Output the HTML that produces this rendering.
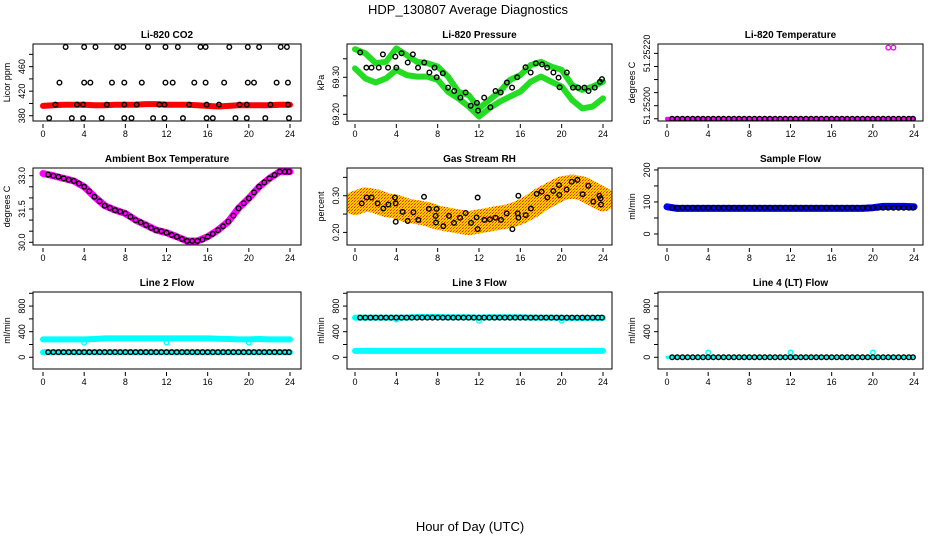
<!DOCTYPE html>
<html><head><meta charset="utf-8"><style>
html,body{margin:0;padding:0;background:#fff;}
svg{display:block;font-family:"Liberation Sans",sans-serif;}
</style></head><body>
<svg id="chart" width="936" height="540" viewBox="0 0 936 540">
<defs>
<pattern id="rhpat" width="3" height="3" patternUnits="userSpaceOnUse"><rect width="3" height="3" fill="#ffd000"/><rect width="1" height="1" fill="#ee2000"/><rect x="2" y="1" width="1" height="1" fill="#ff9000"/><rect x="1" y="2" width="1" height="1" fill="#ee4000"/></pattern>
</defs>
<text x="468" y="14" text-anchor="middle" font-size="13">HDP_130807  Average Diagnostics</text>
<text x="470" y="531" text-anchor="middle" font-size="13">Hour of Day (UTC)</text>
</svg>
<script>
// ---- data ----
const hours = [0,1,2,3,4,5,6,7,8,9,10,11,12,13,14,15,16,17,18,19,20,21,22,23,24];
const halfHours = [0.5,1,1.5,2,2.5,3,3.5,4,4.5,5,5.5,6,6.5,7,7.5,8,8.5,9,9.5,10,10.5,11,11.5,12,12.5,13,13.5,14,14.5,15,15.5,16,16.5,17,17.5,18,18.5,19,19.5,20,20.5,21,21.5,22,22.5,23,23.5,23.9];
const xTicks = [0,4,8,12,16,20,24];

const co2Red = [396,397,398,398,398,397,397,398,398,398,399,399,398,398,398,397,396,395,396,397,397,397,397,398,398];
const co2TopX = [2.2,4.0,5.1,7.2,7.8,10.2,11.9,13.1,15.3,15.8,18.1,19.9,21.0,23.1,23.7];
const co2TopV = [492,492,492,492,492,492,492,492,492,492,492,492,492,492,492];
const co2MidX = [1.6,4.0,4.6,6.7,7.9,9.6,11.9,12.6,14.7,15.8,17.6,19.9,20.5,22.7,23.8];
const co2MidV = [434,434,434,434,434,434,434,434,434,434,434,434,434,434,434];
const co2LowX = [1.2,3.3,3.9,6.2,7.9,9.1,11.3,11.8,14.2,15.9,17.1,19.1,19.8,22.1,23.8];
const co2LowV = [398,398,398,398,398,398,398,398,398,398,398,398,398,398,398];
const co2BotX = [0.6,2.8,3.9,5.7,7.9,8.6,10.7,11.8,13.6,15.9,16.5,18.7,19.8,21.6,23.9];
const co2BotV = [376,376,376,376,376,376,376,376,376,376,376,376,376,376,376];

const presA = [69.376,69.365,69.338,69.342,69.378,69.360,69.342,69.338,69.329,69.302,69.261,69.252,69.216,69.239,69.261,69.293,69.306,69.333,69.342,69.329,69.320,69.279,69.266,69.275,69.288];
const presB = [69.324,69.297,69.286,69.297,69.320,69.306,69.302,69.302,69.293,69.261,69.243,69.221,69.194,69.216,69.234,69.248,69.261,69.288,69.302,69.288,69.275,69.239,69.216,69.221,69.243];
const presPtX = [0.5,1.1,1.6,2.3,2.7,3.2,3.9,4.0,4.5,5.1,5.6,6.1,6.7,7.2,7.7,7.9,8.5,9.0,9.6,10.2,10.7,11.2,11.8,11.9,12.5,13.1,13.6,14.1,14.7,15.2,15.7,16.5,17.0,17.5,18.1,18.6,19.2,19.7,19.8,20.5,21.1,21.6,22.2,22.6,23.2,23.7,23.9];
const presPtV = [69.367,69.326,69.326,69.326,69.362,69.326,69.356,69.326,69.365,69.340,69.362,69.326,69.340,69.313,69.326,69.300,69.311,69.272,69.263,69.245,69.259,69.223,69.231,69.210,69.245,69.219,69.263,69.259,69.286,69.272,69.300,69.327,69.313,69.338,69.335,69.326,69.313,69.299,69.273,69.313,69.272,69.272,69.272,69.263,69.272,69.288,69.295];

const liTempMag = [51.25195,51.25195,51.25195,51.25195,51.25195,51.25195,51.25195,51.25195,51.25195,51.25195,51.25195,51.25195,51.25195,51.25195,51.25195,51.25195,51.25195,51.25195,51.25195,51.25195,51.25195,51.25195,51.25195,51.25195,51.25195];
const liTempSpikeX = [21.5,22.0];
const liTempSpikeV = [51.252222,51.252222];
const liTempBlk = halfHours.map(()=>51.25195);

const ambMag = [33.1,33.0,32.88,32.76,32.5,32.05,31.65,31.45,31.3,31.0,30.78,30.55,30.43,30.25,30.06,30.06,30.25,30.55,30.93,31.53,31.98,32.5,32.88,33.18,33.18];
const ambBlk = [33.05,33.0,32.95,32.88,32.82,32.76,32.65,32.5,32.3,32.05,31.85,31.65,31.55,31.45,31.38,31.3,31.15,31.0,30.9,30.78,30.65,30.55,30.5,30.43,30.33,30.25,30.15,30.06,30.06,30.06,30.12,30.25,30.38,30.55,30.72,30.93,31.2,31.53,31.76,31.98,32.25,32.5,32.7,32.88,33.03,33.18,33.18,33.18];

const rhBand = [0.28,0.29,0.285,0.275,0.27,0.26,0.255,0.25,0.24,0.235,0.23,0.225,0.23,0.235,0.24,0.245,0.255,0.27,0.29,0.305,0.32,0.325,0.32,0.305,0.29];
const rhPtX = [0.65,1.13,1.61,2.19,2.74,3.23,3.87,3.94,3.94,4.61,5.10,5.65,6.13,6.68,7.16,7.90,7.81,7.84,8.55,9.10,9.58,10.16,10.71,11.23,11.77,11.87,11.87,12.52,13.06,13.61,14.13,14.68,15.23,15.74,15.81,15.81,16.52,17.03,17.58,18.06,18.61,19.19,19.74,19.77,20.48,20.97,21.52,22.03,22.58,23.06,23.65,23.77,23.81];
const rhPtV = [0.279,0.295,0.295,0.279,0.265,0.276,0.295,0.279,0.229,0.256,0.231,0.255,0.234,0.297,0.264,0.264,0.245,0.227,0.217,0.245,0.226,0.240,0.253,0.226,0.241,0.209,0.295,0.234,0.236,0.240,0.234,0.252,0.209,0.252,0.240,0.300,0.247,0.265,0.305,0.311,0.295,0.313,0.329,0.302,0.317,0.338,0.343,0.304,0.327,0.284,0.300,0.293,0.276];

const sampleBlue = [85,80,80,80,80,80,80,80,80,80,80,80,80,80,80,80,80,80,80,80,82,86,86,86,85];
const sampleBlk = halfHours.map(()=>82);

const line2Upper = [280,280,280,280,280,285,295,295,295,295,295,295,295,295,295,295,295,290,285,280,280,285,280,280,280];
const line2Lower = [80,80,80,80,80,80,80,80,80,80,80,80,80,80,80,80,80,80,80,80,80,80,80,80,80];
const line2DipX = [4,12,20];
const line2DipV = [230,230,230];
const line2Blk = halfHours.map(()=>80);

const line3Upper = [620,620,620,620,620,620,630,630,630,625,625,625,620,625,625,625,625,620,620,620,615,615,615,615,615];
const line3Lower = [100,100,100,100,100,100,100,100,100,100,100,100,100,100,100,100,100,100,100,100,100,100,100,100,100];
const line3DipX = [4,12,20];
const line3DipV = [590,570,570];
const line3Blk = halfHours.map(()=>620);

const line4Cyan = [0,0,0,0,0,0,0,0,0,0,0,0,0,0,0,0,0,0,0,0,0,0,0,0,0];
const line4SpikeX = [4,12,20];
const line4SpikeV = [75,75,75];
const line4Blk = halfHours.map(()=>0);

// ---- layout ----
const NS='http://www.w3.org/2000/svg';
const svg=document.getElementById('chart');
const cols=[{l:33,r:301,x0:43,x24:290},{l:347,r:612,x0:355,x24:603},{l:658,r:923,x0:667,x24:914}];
const rows=[{t:44,b:121},{t:168,b:245},{t:292,b:369}];
function mk(tag,attrs,parent){const e=document.createElementNS(NS,tag);for(const k in attrs)e.setAttribute(k,attrs[k]);(parent||svg).appendChild(e);return e;}

function panel(ci,ri,dom,title,ylab,yticks,ylabels,name){
  const c=cols[ci],r=rows[ri];
  const g=mk('g',{});
  
  
  const sx=h=>c.x0+(c.x24-c.x0)*h/24;
  const sy=v=>r.b-(v-dom[0])/(dom[1]-dom[0])*(r.b-r.t);
  const t=mk('text',{x:(c.l+c.r)/2,y:r.t-6,'text-anchor':'middle','font-size':'10','font-weight':'bold'},g);
  t.textContent=title;
  
  
  const yt=mk('text',{transform:`translate(${c.l-23},${(r.t+r.b)/2}) rotate(-90)`,'text-anchor':'middle','font-size':'9'},g);
  yt.textContent=ylab;
  
  
  const ya=mk('g',{},g);
  
  
  yticks.forEach(v=>{const y=sy(v);mk('line',{x1:c.l-4,x2:c.l,y1:y,y2:y,stroke:'#000','stroke-width':1},ya);});
  ylabels.forEach(v=>{const y=sy(v[0]);const tx=mk('text',{transform:`translate(${c.l-8},${y}) rotate(-90)`,'text-anchor':'middle','font-size':'9'},ya);tx.textContent=v[1];});
  const xa=mk('g',{},g);
  
  
  xTicks.forEach(h=>{const x=sx(h);mk('line',{x1:x,x2:x,y1:r.b+3,y2:r.b+7,stroke:'#000','stroke-width':1},xa);const tx=mk('text',{x:x,y:r.b+16,'text-anchor':'middle','font-size':'9'},xa);tx.textContent=String(h);});
  const clipId='clip'+ci+ri;
  const cp=mk('clipPath',{id:clipId},g);mk('rect',{x:c.l,y:r.t,width:c.r-c.l,height:r.b-r.t},cp);
  const plot=mk('g',{'clip-path':`url(#${clipId})`},g);
  
  
  const box=mk('rect',{x:c.l,y:r.t,width:c.r-c.l,height:r.b-r.t,fill:'none',stroke:'#000','stroke-width':1},g);
  
  
  return {sx,sy,plot};
}
function band(p,xs,vs,color,w,name){
  const d=xs.map((h,i)=>(i?'L':'M')+p.sx(h).toFixed(1)+','+p.sy(vs[i]).toFixed(1)).join('');
  const e=mk('path',{d:d,fill:'none',stroke:color,'stroke-width':w,'stroke-linejoin':'round','stroke-linecap':'round'},p.plot);
  
  
}
function pts(p,xs,vs,color,name,rad){
  const g=mk('g',{},p.plot);
  
  
  xs.forEach((h,i)=>{mk('circle',{cx:p.sx(h),cy:p.sy(vs[i]),r:rad||2.3,fill:'none',stroke:color,'stroke-width':1.4},g);});
}

// CO2
let p=panel(0,0,[371.4,496.9],'Li-820 CO2','Licor ppm',[380,400,420,440,460,480],[[380,'380'],[420,'420'],[460,'460']],'co2');
band(p,hours,co2Red,'#ff0000',6,'co2-red-series');
pts(p,co2TopX,co2TopV,'#000','co2-points-high');
pts(p,co2MidX,co2MidV,'#000','co2-points-mid');
pts(p,co2LowX,co2LowV,'#000','co2-points-low');
pts(p,co2BotX,co2BotV,'#000','co2-points-bottom');
// Pressure
p=panel(1,0,[69.1819,69.39],'Li-820 Pressure','kPa',[69.20,69.25,69.30,69.35],[[69.20,'69.20'],[69.30,'69.30']],'pressure');
band(p,hours,presA,'#22dd22',6,'pressure-green-series-a');
band(p,hours,presB,'#22dd22',6,'pressure-green-series-b');
pts(p,presPtX,presPtV,'#000','pressure-points');
// Li temp
p=panel(2,0,[51.2519415,51.2522359],'Li-820 Temperature','degrees C',[51.25195,51.25200,51.25205,51.25210,51.25215,51.25220],[[51.25200,'51.25200'],[51.25220,'51.25220']],'li-temp');
band(p,hours,liTempMag,'#ff00ff',4,'li-temp-magenta-series');
pts(p,halfHours,liTempBlk,'#000','li-temp-points');
pts(p,liTempSpikeX,liTempSpikeV,'#ff00ff','li-temp-spike-points');
// Ambient
p=panel(0,1,[29.878,33.347],'Ambient Box Temperature','degrees C',[30,30.5,31,31.5,32,32.5,33],[[30,'30.0'],[31.5,'31.5'],[33,'33.0']],'ambient');
band(p,hours,ambMag,'#ff00ff',7,'ambient-magenta-series');
pts(p,halfHours,ambBlk,'#000','ambient-points');
// RH
p=panel(1,1,[0.1657,0.3755],'Gas Stream RH','percent',[0.20,0.25,0.30,0.35],[[0.20,'0.20'],[0.30,'0.30']],'rh');
band(p,hours,rhBand,'url(#rhpat)',24,'rh-orange-series');
pts(p,rhPtX,rhPtV,'#000','rh-points');
// Sample flow
p=panel(2,1,[-34.4,206],'Sample Flow','ml/min',[0,50,100,150,200],[[0,'0'],[100,'100'],[200,'200']],'sample-flow');
band(p,hours,sampleBlue,'#0000ff',7,'sample-flow-blue-series');
pts(p,halfHours,sampleBlk,'#000','sample-flow-points');
// Line 2
p=panel(0,2,[-183,1020],'Line 2 Flow','ml/min',[0,200,400,600,800,1000],[[0,'0'],[400,'400'],[800,'800']],'line2');
band(p,hours,line2Upper,'#00ffff',6,'line2-cyan-upper');
band(p,hours,line2Lower,'#00ffff',6,'line2-cyan-lower');
pts(p,line2DipX,line2DipV,'#00ffff','line2-dip-points');
pts(p,halfHours,line2Blk,'#000','line2-points');
// Line 3
p=panel(1,2,[-183,1020],'Line 3 Flow','ml/min',[0,200,400,600,800,1000],[[0,'0'],[400,'400'],[800,'800']],'line3');
band(p,hours,line3Upper,'#00ffff',6,'line3-cyan-upper');
band(p,hours,line3Lower,'#00ffff',6,'line3-cyan-lower');
pts(p,line3DipX,line3DipV,'#00ffff','line3-dip-points');
pts(p,halfHours,line3Blk,'#000','line3-points');
// Line 4
p=panel(2,2,[-183,1020],'Line 4 (LT) Flow','ml/min',[0,200,400,600,800,1000],[[0,'0'],[400,'400'],[800,'800']],'line4');
band(p,hours,line4Cyan,'#00ffff',3,'line4-cyan-series');
pts(p,line4SpikeX,line4SpikeV,'#00ffff','line4-spike-points');
pts(p,halfHours,line4Blk,'#000','line4-points');
</script>
</body></html>
